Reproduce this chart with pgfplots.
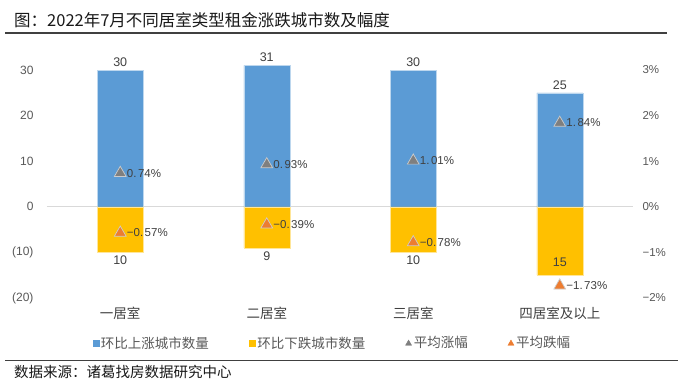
\documentclass[border=0pt]{standalone}
\usepackage{pgfplots}
\pgfplotsset{compat=1.18}
\usepackage{pgfplotstable}
\usepackage{fontspec}
\setmainfont{Liberation Sans}
\newfontfamily\cjk{Noto Sans CJK SC}
\definecolor{barblue}{HTML}{5B9BD5}
\definecolor{baryellow}{HTML}{FFC000}
\definecolor{trigray}{HTML}{7F7F7F}
\definecolor{triorange}{HTML}{ED7D31}
\definecolor{txt}{HTML}{404040}
\definecolor{tickc}{HTML}{595959}

\pgfplotstableread{
x up down uplab downlab dshift
0 30 -10 30 10 0
1 31 -9 31 9 0
2 30 -10 30 10 0
3 25 -15 25 15 21
}\counts

\begin{document}
\begin{tikzpicture}[x=1pt,y=1pt]
\useasboundingbox (0,0) rectangle (678,383);
\fill[white] (0,0) rectangle (678,383);
\node[anchor=west, inner sep=0, text=black!90] at (14,363) {\cjk\fontsize{16.5}{18}\selectfont 图：2022年7月不同居室类型租金涨跌城市数及幅度};
\draw[line width=1.2pt, color=black!75] (5,350) -- (667,350);
\draw[line width=1pt, color=black!75] (5,22) -- (678,22);
\node[anchor=west, inner sep=0, text=black!90] at (14,11) {\cjk\fontsize{14.5}{16}\selectfont 数据来源：诸葛找房数据研究中心};

\begin{axis}[
  at={(47pt,85pt)}, anchor=south west,
  scale only axis, width=586pt, height=237.12pt,
  xmin=-0.5, xmax=3.5, ymin=-20, ymax=32,
  axis line style={draw=none}, major tick length=0pt,
  xtick={0,1,2,3},
  xticklabels={一居室,二居室,三居室,四居室及以上},
  xticklabel style={font=\cjk\fontsize{13.5}{15}\selectfont, text=txt, yshift=-5pt},
  ytick={-20,-10,0,10,20,30},
  yticklabels={(20),(10),0,10,20,30},
  yticklabel style={font=\fontsize{12}{14}\selectfont, text=tickc, xshift=-10pt},
  clip=false,
]
\draw[color=black!15, line width=0.8pt] (axis cs:-0.5,0) -- (axis cs:3.5,0);
\addplot[ybar, bar shift=0pt, bar width=46pt, fill=barblue, draw=white!60!barblue, line width=0.5pt,
  nodes near coords, point meta=explicit symbolic,
  every node near coord/.append style={anchor=south, font=\fontsize{12.5}{14}\selectfont, text=txt}]
  table[x=x, y=up, meta=uplab] {\counts};
\addplot[ybar, bar shift=0pt, bar width=46pt, fill=baryellow, draw=white!60!baryellow, line width=0.5pt,
  nodes near coords, point meta=explicit symbolic,
  visualization depends on={\thisrow{dshift} \as \dshift},
  every node near coord/.append style={anchor=north, yshift=\dshift pt, font=\fontsize{12.5}{14}\selectfont, text=txt}]
  table[x=x, y=down, meta=downlab] {\counts};
\end{axis}

\begin{axis}[
  at={(47pt,85pt)}, anchor=south west,
  scale only axis, width=586pt, height=237.12pt,
  xmin=-0.5, xmax=3.5, ymin=-2, ymax=3.2,
  axis line style={draw=none}, major tick length=0pt,
  xtick=\empty,
  ytick={-2,-1,0,1,2,3},
  yticklabels={−2\%,−1\%,0\%,1\%,2\%,3\%},
  yticklabel pos=right,
  yticklabel style={font=\fontsize{11.5}{13}\selectfont, text=tickc, xshift=6pt},
  clip=false,
  legend columns=4,
  legend cell align=left,
  legend style={draw=none, fill=none, at={(0.487,-0.19)}, anchor=center,
    font=\cjk\fontsize{13.5}{15}\selectfont, text=tickc,
    /tikz/every even column/.append style={column sep=38pt}},
]
\addlegendimage{legend image code/.code={\fill[barblue] (0pt,-3pt) rectangle (6pt,3pt);}}
\addlegendentry{环比上涨城市数量}
\addlegendimage{legend image code/.code={\fill[baryellow] (0pt,-3pt) rectangle (6pt,3pt);}}
\addlegendentry{环比下跌城市数量}
\addplot[only marks, mark=triangle*, mark size=6.8pt,
  mark options={fill=trigray, draw=white!80!black, line width=0.7pt},
  nodes near coords, point meta=explicit symbolic,
  every node near coord/.append style={anchor=west, xshift=3pt, font=\fontsize{11.5}{13}\selectfont, text=txt},
  legend image code/.code={\fill[trigray] (0pt,-2.2pt) -- (6pt,-2.2pt) -- (3pt,3pt) -- cycle;}]
  coordinates {(0,0.74) [0.\kern1.5pt 74\%] (1,0.93) [0.\kern1.5pt 93\%] (2,1.01) [1.\kern1.5pt 01\%] (3,1.84) [1.\kern1.5pt 84\%]};
\addlegendentry{平均涨幅}
\addplot[only marks, mark=triangle*, mark size=6.8pt,
  mark options={fill=triorange, draw=white!80!black, line width=0.7pt},
  nodes near coords, point meta=explicit symbolic,
  every node near coord/.append style={anchor=west, xshift=3pt, font=\fontsize{11.5}{13}\selectfont, text=txt},
  legend image code/.code={\fill[triorange] (0pt,-2.2pt) -- (6pt,-2.2pt) -- (3pt,3pt) -- cycle;}]
  coordinates {(0,-0.57) [−0.\kern1.5pt 57\%] (1,-0.39) [−0.\kern1.5pt 39\%] (2,-0.78) [−0.\kern1.5pt 78\%] (3,-1.73) [−1.\kern1.5pt 73\%]};
\addlegendentry{平均跌幅}
\end{axis}
\end{tikzpicture}
\end{document}
